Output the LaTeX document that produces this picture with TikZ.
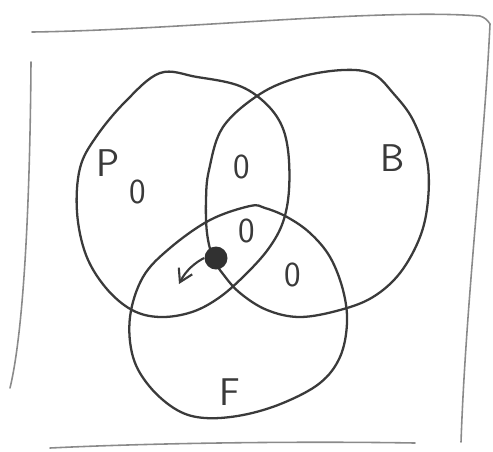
\documentclass[tikz,border=0pt]{standalone}
\usepackage{tikz}
\usetikzlibrary{arrows.meta}
\definecolor{Ink}   {HTML}{3a3a3a}
\definecolor{Pencil}{HTML}{8a8a8a}

\begin{document}
\begin{tikzpicture}[
  x=0.02cm, y=-0.02cm,
  font=\sffamily, >={Straight Barb[length=2.5mm,width=3mm]},
  setc/.style  = {draw=Ink, line width=1.3pt, tension=0.6},
  frame/.style = {draw=Pencil, line width=0.9pt, line cap=round},
  lbl/.style   = {text=Ink, font=\sffamily\fontsize{22}{22}\selectfont},
  zero/.style  = {text=Ink, font=\sffamily\fontsize{20}{20}\selectfont},
]
\useasboundingbox (0,0) rectangle (493,451);

% the box round the sets
\coordinate (tl) at (32,32);
\coordinate (tr) at (490,24);
\coordinate (rb) at (461,442);
\coordinate (lt) at (31,62);
\coordinate (lb) at (10,388);
\coordinate (bl) at (50,448);
\coordinate (br) at (415,443);
\draw[frame] (tl) .. controls (180,30) and (380,8) .. (480,16) to[bend left=20] (tr);
\draw[frame] (tr) .. controls (484,150) and (466,300) .. (rb);
\draw[frame] (lt) .. controls (30,200) and (24,330) .. (lb);
\draw[frame] (bl) .. controls (150,443) and (300,441) .. (br);

% the three sets, drawn by hand
\draw[setc] plot[smooth cycle] coordinates {
  (160,73) (197,77) (237,85) (262,100) (280,122) (288,150) (289,190)
  (283,222) (269,248) (247,273) (220,297) (192,312) (160,317) (132,310)
  (106,288) (86,255) (77,212) (80,168) (96,137) (125,102)};
\draw[setc] plot[smooth cycle] coordinates {
  (223,127) (260,94) (300,77) (343,70) (373,74) (393,93) (413,120)
  (427,160) (428,200) (420,237) (400,273) (373,297) (340,310) (300,317)
  (267,310) (240,293) (223,274) (213,258) (207,233) (206,200) (209,170)};
\draw[setc] plot[smooth cycle] coordinates {
  (250,206) (210,220) (170,248) (143,277) (130,317) (133,357) (150,387)
  (177,410) (205,418) (243,415) (283,403) (320,383) (340,357) (347,323)
  (343,290) (330,257) (310,233) (287,217) (265,208)};

\node[lbl] (pname) at (108,163) {P};
\node[lbl] (bname) at (393,158) {B};
\node[lbl] (fname) at (230,392) {F};

\node[zero] (zp)   at (138,192) {0};
\node[zero] (zpb)  at (242,167) {0};
\node[zero] (zpbf) at (247,231) {0};
\node[zero] (zbf)  at (293,275) {0};

% the point and where it goes
\node[circle, fill=Ink!85!black, minimum size=0.46cm, inner sep=0pt] (dot) at (216,258) {};
\coordinate (tip) at (179,284);
\draw[->, Ink, line width=1.2pt] (dot.west) .. controls (196,262) and (186,270) .. (tip);
\end{tikzpicture}
\end{document}
